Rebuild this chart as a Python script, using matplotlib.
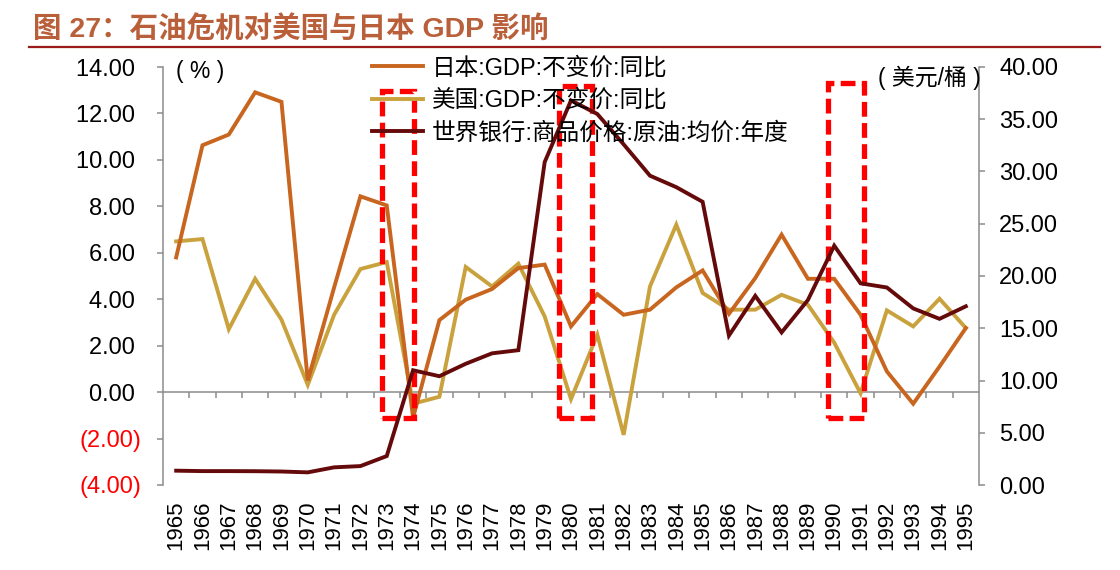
import numpy as np
import matplotlib
matplotlib.use("Agg")
import matplotlib.pyplot as plt
from matplotlib.patches import Rectangle
from matplotlib.lines import Line2D

plt.rcParams['font.family'] = ['Liberation Sans', 'Noto Sans CJK SC', 'DejaVu Sans']

# ---------------- data ----------------
years = [str(y) for y in range(1965, 1996)]
japan_gdp = [5.80, 10.63, 11.09, 12.91, 12.50, 0.50, 4.50, 8.43, 8.04, -1.10,
             3.10, 3.98, 4.44, 5.34, 5.49, 2.83, 4.22, 3.33, 3.55, 4.51,
             5.24, 3.37, 4.91, 6.78, 4.88, 4.88, 3.33, 0.89, -0.50, 1.10, 2.76]
us_gdp = [6.49, 6.59, 2.71, 4.88, 3.12, 0.31, 3.33, 5.30, 5.60, -0.50,
          -0.20, 5.39, 4.55, 5.53, 3.26, -0.30, 2.47, -1.84, 4.55, 7.21,
          4.27, 3.55, 3.55, 4.19, 3.76, 2.13, -0.05, 3.52, 2.83, 4.02, 2.76]
oil_price = [1.37, 1.33, 1.33, 1.32, 1.29, 1.21, 1.69, 1.81, 2.77, 10.98,
             10.41, 11.60, 12.60, 12.90, 30.90, 36.80, 35.50, 32.60, 29.60, 28.50,
             27.10, 14.30, 18.10, 14.60, 17.70, 22.90, 19.30, 18.90, 16.90, 15.90, 17.10]
left_ticks = [14, 12, 10, 8, 6, 4, 2, 0, -2, -4]
right_ticks = [40, 35, 30, 25, 20, 15, 10, 5, 0]
series_names = ['日本:GDP:不变价:同比', '美国:GDP:不变价:同比', '世界银行:商品价格:原油:均价:年度']
title = '图 27：石油危机对美国与日本 GDP 影响'

# highlight boxes (annotation positions, category-index units / left-axis units)
box_x0 = [7.82, 14.54, 24.76]
box_x1 = [9.04, 15.78, 26.13]
box_top = [12.96, 13.17, 13.29]
box_bottom = -1.13

# ---------------- style ----------------
c_japan = '#C8651E'
c_us = '#C9A23E'
c_oil = '#650A0A'
gray = '#8C8C8C'

W, H = 1120, 570
fig = plt.figure(figsize=(W / 100, H / 100), dpi=100)
ax = fig.add_axes([163 / W, 1 - 485 / H, (979 - 163) / W, (485 - 67) / H])
ax2 = ax.twinx()

x = np.arange(len(years))
ax.plot(x, japan_gdp, color=c_japan, lw=2.8, solid_joinstyle='miter', zorder=3)
ax.plot(x, us_gdp, color=c_us, lw=2.8, solid_joinstyle='miter', zorder=2)
ax2.plot(x, oil_price, color=c_oil, lw=2.8, solid_joinstyle='miter', zorder=3)

for x0, x1, yt in zip(box_x0, box_x1, box_top):
    ax.add_patch(Rectangle((x0, box_bottom), x1 - x0, yt - box_bottom, fill=False,
                           ec='#FF0000', lw=3.8, ls=(0, (2.8, 1.2)), zorder=4,
                           clip_on=False, joinstyle='miter'))

ax.set_xlim(-0.5, len(years) - 0.5)
ax.set_ylim(-4, 14)
ax2.set_ylim(0, 40)

ax.set_yticks(left_ticks)
ax.set_yticklabels([f'{v:.2f} ' if v >= 0 else f'({abs(v):.2f})' for v in left_ticks])
for t, v in zip(ax.get_yticklabels(), left_ticks):
    t.set_color('#FF0000' if v < 0 else 'black')
ax2.set_yticks(right_ticks)
ax2.set_yticklabels([f'{v:.2f}' for v in right_ticks])

ax.set_xticks(x)
ax.set_xticklabels(years, rotation=90, fontsize=16)
ax.tick_params(axis='x', length=0, pad=11)
ax.tick_params(axis='y', direction='out', length=4.5, width=1.1, color=gray,
               labelsize=17, pad=11)
ax2.tick_params(axis='y', direction='out', length=4.5, width=1.1, color=gray,
                labelsize=17, pad=10)

for s in ['top', 'bottom', 'right']:
    ax.spines[s].set_visible(False)
ax.spines['left'].set_color(gray)
ax.spines['left'].set_linewidth(1.1)
for s in ['top', 'bottom', 'left']:
    ax2.spines[s].set_visible(False)
ax2.spines['right'].set_color(gray)
ax2.spines['right'].set_linewidth(1.1)

# zero axis line with category-boundary ticks
sec = ax.secondary_xaxis(0, transform=ax.transData)
sec.set_xticks(np.arange(0.5, len(years) - 1, 1))
sec.set_xticklabels([])
sec.tick_params(axis='x', direction='out', length=4.5, width=1.1, color=gray)
sec.spines['bottom'].set_color(gray)
sec.spines['bottom'].set_linewidth(1.1)

# unit labels
fig.text(200 / W, 1 - 72 / H, '( % )', fontsize=16.5, ha='center', va='center')
fig.text(929 / W, 1 - 78 / H, '( 美元/桶 )', fontsize=16.5, ha='center', va='center')

# legend
handles = [Line2D([], [], color=c, lw=2.8) for c in (c_japan, c_us, c_oil)]
fig.legend(handles, series_names, loc='upper left', bbox_to_anchor=(372 / W, 1 - 57 / H),
           bbox_transform=fig.transFigure, frameon=False, fontsize=17,
           handlelength=2.16, handletextpad=0.38, labelspacing=0.42,
           borderpad=0, borderaxespad=0)

# title and rule
fig.text(33 / W, 1 - 29 / H, title, fontsize=20.5, fontweight='bold', color='#B9603B',
         ha='left', va='center')
fig.add_artist(Line2D([29 / W, 1100 / W], [1 - 47 / H, 1 - 47 / H], color='#9B1B1B',
                      lw=1.6, transform=fig.transFigure))

fig.savefig('out.png', dpi=100)
